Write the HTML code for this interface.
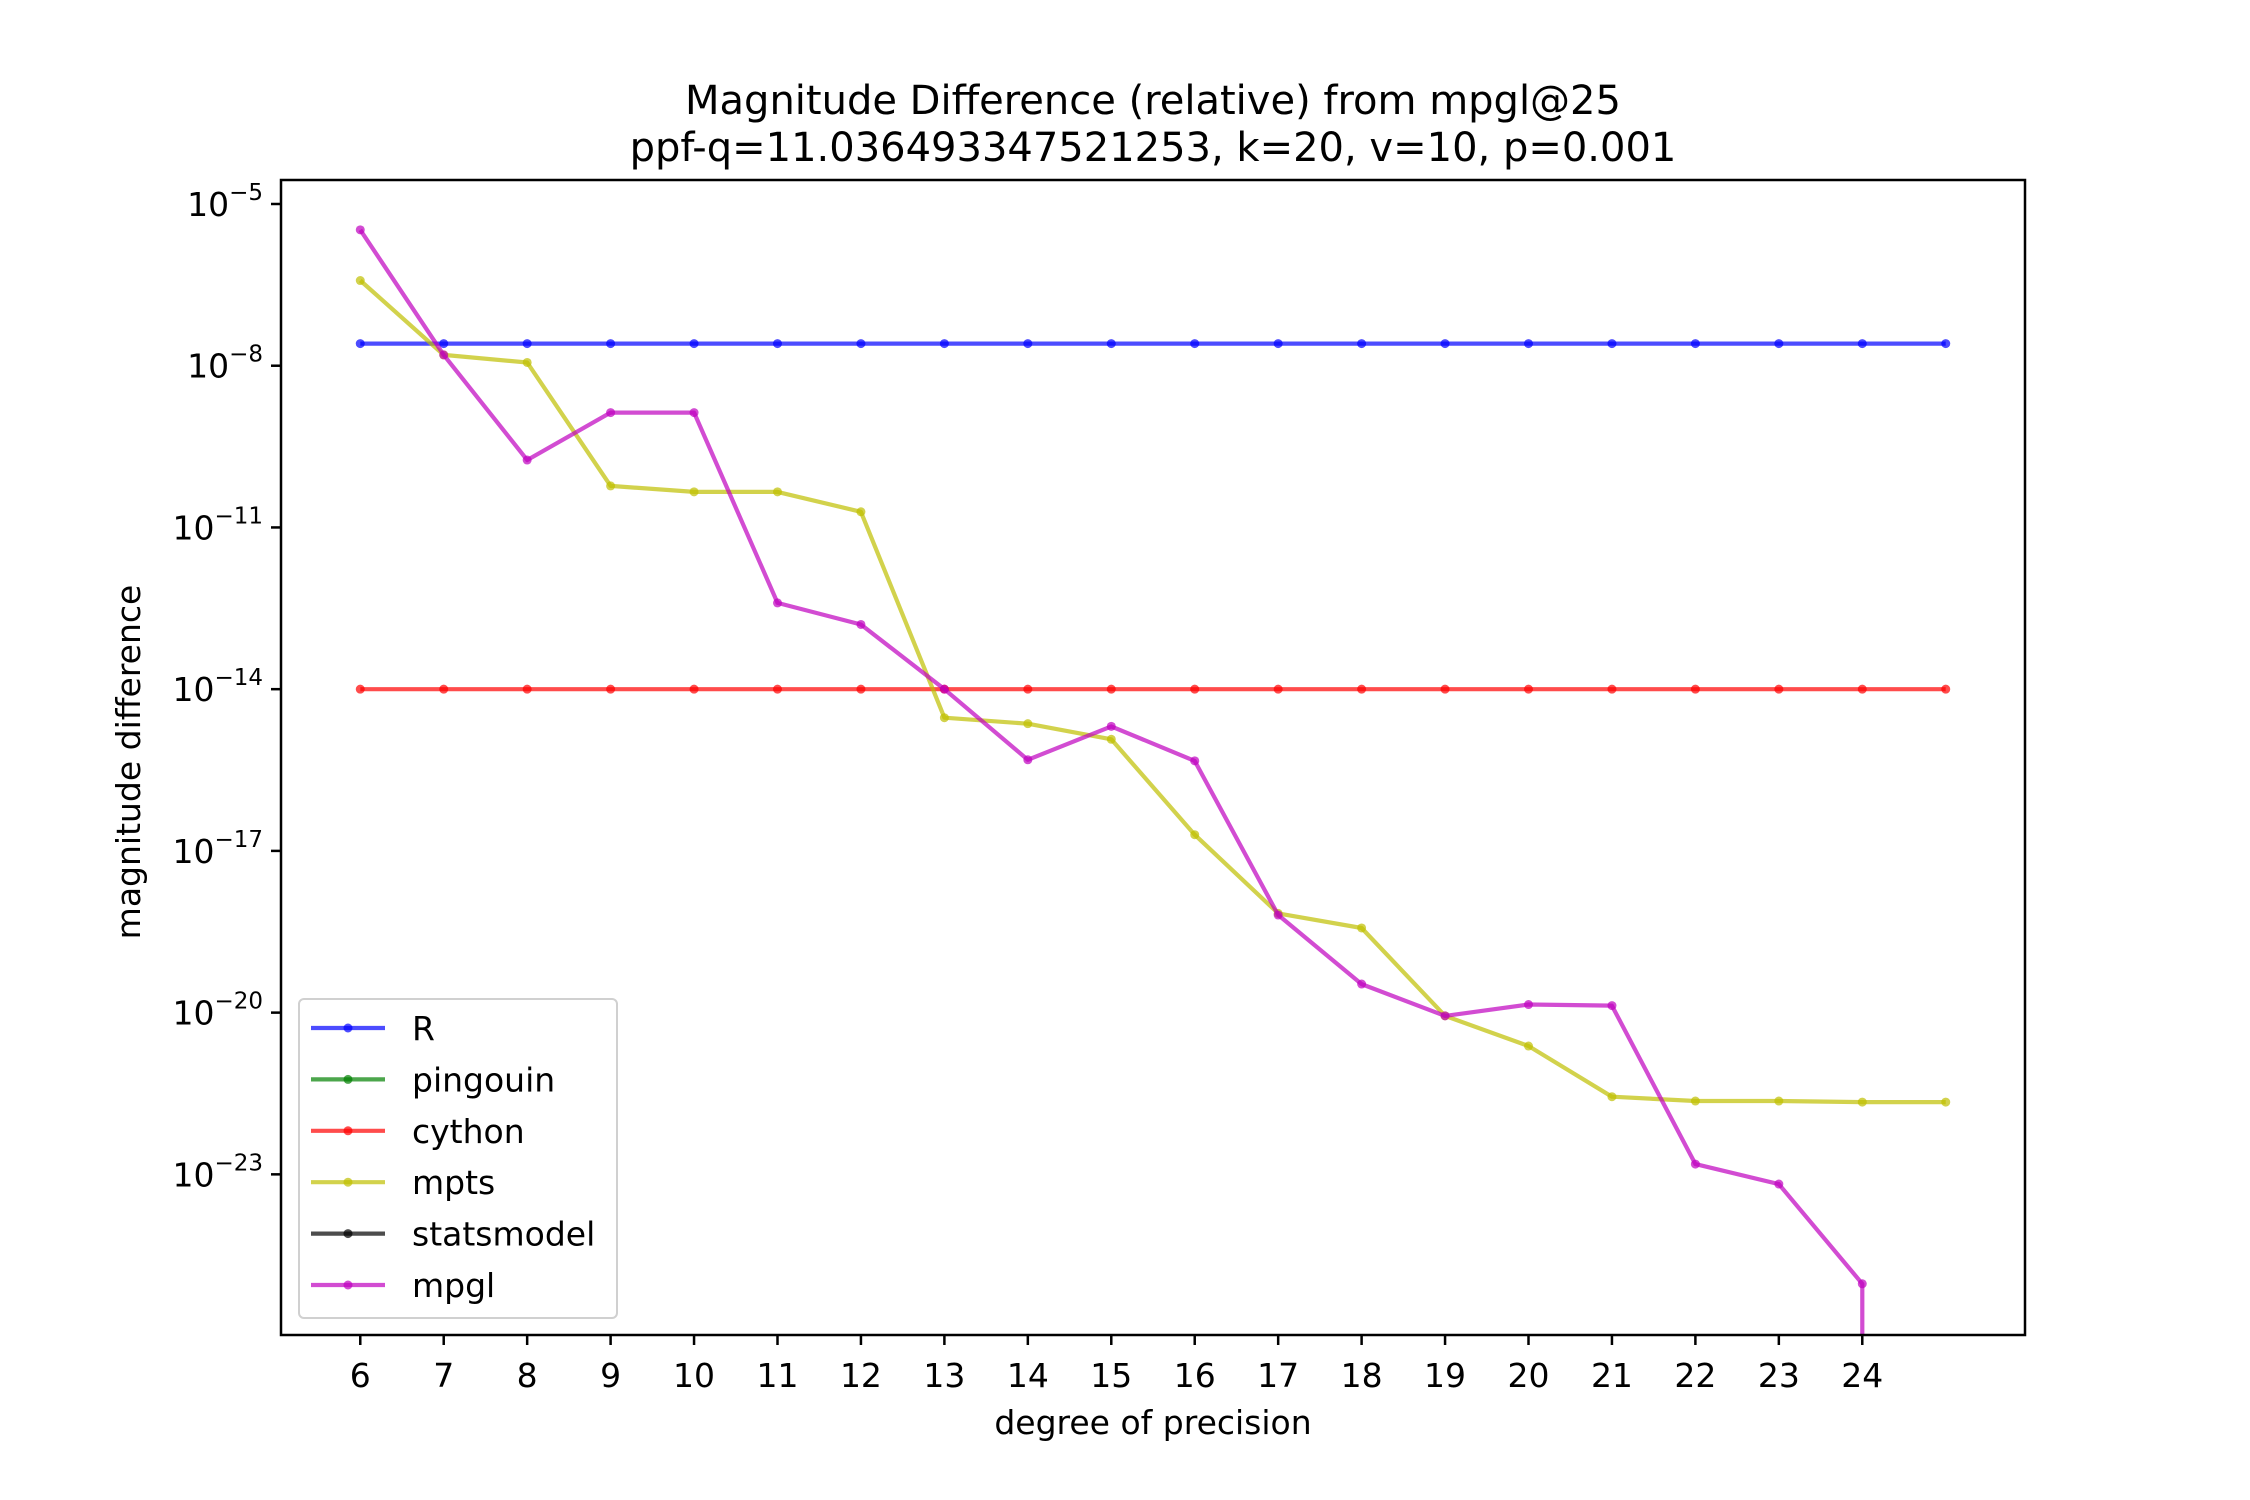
<!DOCTYPE html>
<html><head><meta charset="utf-8"><style>
html,body{margin:0;padding:0;background:#fff}
svg{display:block;font-family:"DejaVu Sans","Liberation Sans",sans-serif}
</style></head><body>
<svg id="chart" width="2250" height="1500" viewBox="0 0 2250 1500" xmlns="http://www.w3.org/2000/svg">
<rect width="2250" height="1500" fill="#fff"/>
<text x="1153" y="114" font-size="40" text-anchor="middle">Magnitude Difference (relative) from mpgl@25</text>
<text x="1153" y="161" font-size="40" text-anchor="middle">ppf-q=11.036493347521253, k=20, v=10, p=0.001</text>
<g id="plot"></g>
<g id="axes"></g>
<text x="1153" y="1452" font-size="33" text-anchor="middle" transform="translate(0,-18)">degree of precision</text>
<text x="0" y="0" font-size="33" text-anchor="middle" transform="translate(140,762) rotate(-90)">magnitude difference</text>
<g id="legend"></g>
</svg>
<script>
const degrees = [6,7,8,9,10,11,12,13,14,15,16,17,18,19,20,21,22,23,24,25];
const xTickLabels = ["6","7","8","9","10","11","12","13","14","15","16","17","18","19","20","21","22","23","24"];
const yTickExps = [-5,-8,-11,-14,-17,-20,-23];
const rExp = [-7.59,-7.59,-7.59,-7.59,-7.59,-7.59,-7.59,-7.59,-7.59,-7.59,-7.59,-7.59,-7.59,-7.59,-7.59,-7.59,-7.59,-7.59,-7.59,-7.59];
const cythonExp = [-14,-14,-14,-14,-14,-14,-14,-14,-14,-14,-14,-14,-14,-14,-14,-14,-14,-14,-14,-14];
const mptsExp = [-6.42,-7.80,-7.94,-10.23,-10.34,-10.34,-10.71,-14.53,-14.64,-14.93,-16.70,-18.16,-18.43,-20.06,-20.62,-21.56,-21.64,-21.64,-21.66,-21.66];
const mpglExp = [-5.48,-7.80,-9.75,-8.87,-8.87,-12.40,-12.80,-14.0,-15.31,-14.69,-15.33,-18.19,-19.47,-20.06,-19.85,-19.87,-22.81,-23.18,-25.03,null];
const legendLabels = ["R","pingouin","cython","mpts","statsmodel","mpgl"];

const NS="http://www.w3.org/2000/svg";
const L=281,R=2025,T=180,B=1335;
const xMin=5.05,xMax=25.95,yTop=-4.555,yBot=-25.98;
function xs(v){return L+(v-xMin)/(xMax-xMin)*(R-L);}
function ys(e){return T+(yTop-e)/(yTop-yBot)*(B-T);}
function mk(tag,attrs,parent){const el=document.createElementNS(NS,tag);for(const k in attrs)el.setAttribute(k,attrs[k]);parent.appendChild(el);return el;}
const plot=document.getElementById('plot'),axes=document.getElementById('axes'),legend=document.getElementById('legend');

function series(vals,color,name){
  const g=mk('g',{},plot);
  
  
  let pts=[];
  vals.forEach((v,i)=>{
    if(v===null){pts.push(xs(degrees[i-1]).toFixed(1)+','+B);return;}
    pts.push(xs(degrees[i]).toFixed(1)+','+ys(v).toFixed(1));
  });
  const pl=mk('polyline',{points:pts.join(' '),fill:'none',stroke:color,'stroke-opacity':0.7,'stroke-width':4.2,'stroke-linejoin':'round'},g);
  
  
  vals.forEach((v,i)=>{
    if(v===null)return;
    const c=mk('circle',{cx:xs(degrees[i]),cy:ys(v),r:4.5,fill:color,'fill-opacity':0.7},g);
    
    
  });
}
const clip=mk('clipPath',{id:'pc'},document.getElementById('chart'));
mk('rect',{x:L,y:T,width:R-L,height:B-T},clip);
plot.setAttribute('clip-path','url(#pc)');
series(rExp,'#0000ff','r');
series(cythonExp,'#ff0000','cython');
series(mptsExp,'#bfbf00','mpts');
series(mpglExp,'#bf00bf','mpgl');

const frame=mk('rect',{x:L,y:T,width:R-L,height:B-T,fill:'none',stroke:'#000','stroke-width':2.5},axes);


xTickLabels.forEach((lab,i)=>{
  const x=xs(degrees[i]);
  const t=mk('line',{x1:x,y1:B,x2:x,y2:B+10,stroke:'#000','stroke-width':2.5},axes);
  
  
  const tx=mk('text',{x:x,y:B+52,'font-size':33,'text-anchor':'middle'},axes);
  tx.textContent=lab;
  
  
});
yTickExps.forEach(e=>{
  const y=ys(e);
  const t=mk('line',{x1:L-10,y1:y,x2:L,y2:y,stroke:'#000','stroke-width':2.5},axes);
  
  
  const tx=mk('text',{x:L-18,y:y+12,'font-size':33,'text-anchor':'end'},axes);
  
  
  const a=mk('tspan',{},tx);a.textContent='10';
  const b=mk('tspan',{dy:-16,'font-size':23},tx);b.textContent='\u2212'+Math.abs(e);
});

const box=mk('rect',{x:299,y:999,width:318,height:319,rx:5,fill:'#fff','fill-opacity':0.8,stroke:'#d0d0d0','stroke-width':2},legend);


const lcolors=['#0000ff','#008000','#ff0000','#bfbf00','#000000','#bf00bf'];
legendLabels.forEach((lab,i)=>{
  const y=1028+i*51.4;
  const g=mk('g',{},legend);
  
  
  mk('line',{x1:311,y1:y,x2:385,y2:y,stroke:lcolors[i],'stroke-opacity':0.7,'stroke-width':4.2},g);
  mk('circle',{cx:348,cy:y,r:4.5,fill:lcolors[i],'fill-opacity':0.7},g);
  const tx=mk('text',{x:412,y:y+12,'font-size':33},g);
  tx.textContent=lab;
});
</script>
</body></html>
